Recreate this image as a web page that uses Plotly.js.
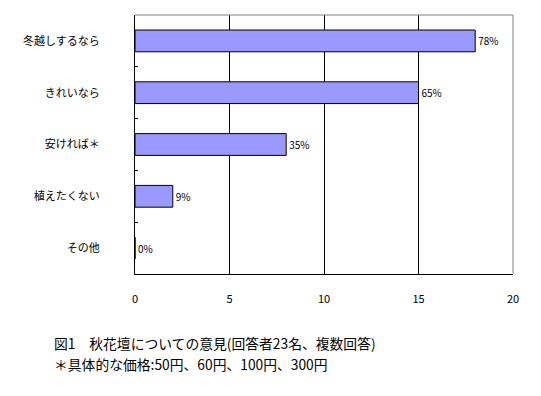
<!DOCTYPE html>
<html><head><meta charset="utf-8">
<script src="https://cdn.plot.ly/plotly-3.0.1.min.js"></script>
<style>html,body{margin:0;padding:0;background:#fff;}</style>
</head><body>
<div id="chart" style="width:541px;height:396px;"></div>
<script>
const categories = ["冬越しするなら", "きれいなら", "安ければ＊", "植えたくない", "その他"];
const counts = [18, 15, 8, 2, 0];
const percentLabels = ["78%", "65%", "35%", "9%", "0%"];
const xTicks = [0, 5, 10, 15, 20];
const captionLines = ["図1　秋花壇についての意見(回答者23名、複数回答)", "＊具体的な価格:50円、60円、100円、300円"];

const FONT = 'Noto Sans CJK JP';

const trace = {
  type: 'bar',
  orientation: 'h',
  y: categories,
  x: counts,
  text: percentLabels,
  texttemplate: '%{text}',
  textposition: 'outside',
  textfont: {family: FONT, size: 10, color: '#000'},
  cliponaxis: false,
  width: 0.42,
  marker: {color: '#9999FF', line: {color: '#000', width: 1}},
  hoverinfo: 'none'
};

const layout = {
  width: 541, height: 396,
  margin: {l: 135, r: 28, t: 15, b: 122},
  paper_bgcolor: '#fff', plot_bgcolor: '#fff',
  showlegend: false,
  font: {family: FONT, size: 11, color: '#000'},
  xaxis: {
    range: [0, 20], tickvals: xTicks, ticktext: xTicks.map(String),
    showgrid: true, gridcolor: '#000', gridwidth: 1,
    zeroline: false, showline: true, linecolor: '#000', linewidth: 1,
    ticks: '', ticklabelstandoff: 15,
    tickfont: {family: FONT, size: 11, color: '#000'},
    fixedrange: true
  },
  yaxis: {
    type: 'category', autorange: 'reversed',
    showgrid: false, zeroline: false,
    showline: true, linecolor: '#000', linewidth: 1,
    ticks: 'inside', ticklen: 3, tickcolor: '#000', tickson: 'boundaries',
    ticklabelstandoff: 32,
    tickfont: {family: FONT, size: 11, color: '#000'},
    fixedrange: true
  },
  shapes: [
    {type: 'line', xref: 'paper', yref: 'paper', x0: 0, x1: 1, y0: 1, y1: 1, line: {color: '#808080', width: 1}, layer: 'above'},
    {type: 'line', xref: 'paper', yref: 'paper', x0: 1, x1: 1, y0: 0, y1: 1, line: {color: '#808080', width: 1}, layer: 'above'}
  ],
  annotations: captionLines.map((t, i) => ({
    text: t, xref: 'paper', yref: 'paper',
    x: -83 / 378, y: -(69 + i * 21) / 259,
    xanchor: 'left', yanchor: 'middle', showarrow: false,
    font: {family: FONT, size: 13.8, color: '#000'}
  }))
};

Plotly.newPlot('chart', [trace], layout, {staticPlot: true, displayModeBar: false});
</script>
</body></html>
